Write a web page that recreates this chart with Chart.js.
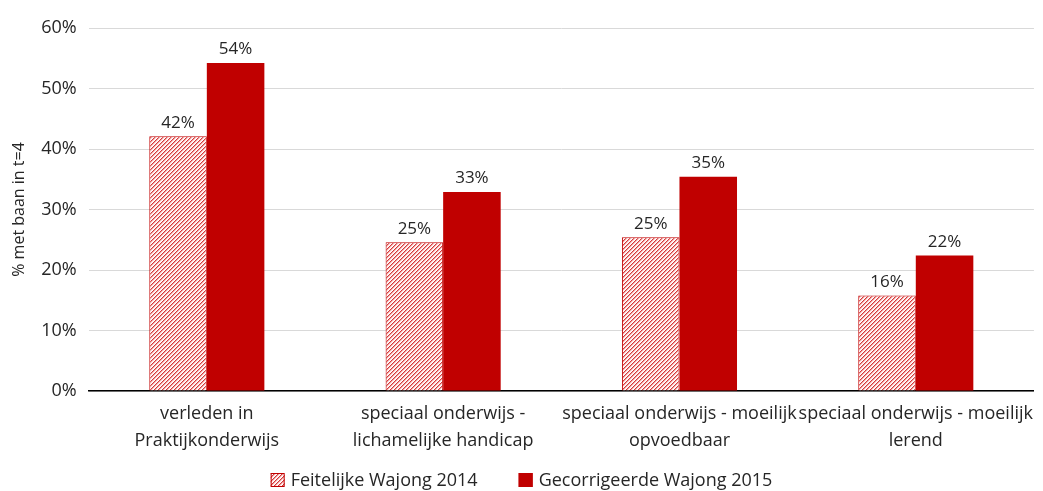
<!DOCTYPE html>
<html>
<head>
<meta charset="utf-8">
<script src="https://cdn.jsdelivr.net/npm/chart.js@4"></script>
<style>
  html, body { margin: 0; padding: 0; background: #fff; }
  #wrap { width: 1043px; height: 491px; }
</style>
</head>
<body>
<div id="wrap"><canvas id="c" width="1043" height="491"></canvas></div>
<script>
const categories = [
  ["verleden in", "Praktijkonderwijs"],
  ["speciaal onderwijs -", "lichamelijke handicap"],
  ["speciaal onderwijs - moeilijk", "opvoedbaar"],
  ["speciaal onderwijs - moeilijk", "lerend"]
];
const seriesNames = ["Feitelijke Wajong 2014", "Gecorrigeerde Wajong 2015"];
const feitelijk2014 = [42.1, 24.6, 25.4, 15.8];
const gecorrigeerd2015 = [54.2, 32.9, 35.4, 22.4];
const yTicks = [0, 10, 20, 30, 40, 50, 60];

const RED = "#c00000";
const TEXT = "#262626";
const FONT = "'Open Sans', 'Liberation Sans', sans-serif";

// fine upward-diagonal hatch fill for the 2014 series
function hatch() {
  const n = 4;
  const t = document.createElement("canvas");
  t.width = n; t.height = n;
  const g = t.getContext("2d");
  const shades = ["#d63a3a", "#ef9f9f", "#fde8e8", "#ffffff"];
  for (let i = 0; i < n; i++) {
    for (let k = 0; k < n; k++) {
      g.fillStyle = shades[k];
      g.fillRect((i + k) % n, n - 1 - i, 1, 1);
    }
  }
  return document.getElementById("c").getContext("2d").createPattern(t, "repeat");
}
const hatchFill = hatch();

// value labels above each bar
const valueLabels = {
  id: "valueLabels",
  afterDatasetsDraw(chart) {
    const ctx = chart.ctx;
    ctx.save();
    ctx.font = "17px " + FONT;
    ctx.fillStyle = TEXT;
    ctx.textAlign = "center";
    ctx.textBaseline = "bottom";
    chart.data.datasets.forEach((ds, di) => {
      chart.getDatasetMeta(di).data.forEach((bar, i) => {
        ctx.fillText(Math.round(ds.data[i]) + "%", bar.x, bar.y - 5);
      });
    });
    ctx.restore();
  }
};

// legend row along the bottom edge, centred on the canvas
const bottomLegend = {
  id: "bottomLegend",
  afterDraw(chart) {
    const ctx = chart.ctx;
    const box = 14, gap = 6, itemGap = 41, cy = 480;
    ctx.save();
    ctx.font = "18px " + FONT;
    ctx.textBaseline = "middle";
    ctx.textAlign = "left";
    const items = chart.data.datasets.map(ds => ({
      text: ds.label, fill: ds.backgroundColor, stroke: ds.borderColor,
      w: box + gap + ctx.measureText(ds.label).width
    }));
    const total = items.reduce((s, it) => s + it.w, 0) + itemGap * (items.length - 1);
    let x = (chart.width - total) / 2;
    items.forEach(it => {
      ctx.fillStyle = it.fill;
      ctx.fillRect(x, cy - box / 2, box, box);
      ctx.strokeStyle = it.stroke;
      ctx.lineWidth = 1;
      ctx.strokeRect(x + 0.5, cy - box / 2 + 0.5, box - 1, box - 1);
      ctx.fillStyle = TEXT;
      ctx.fillText(it.text, x + box + gap, cy + 1);
      x += it.w + itemGap;
    });
    ctx.restore();
  }
};

new Chart(document.getElementById("c"), {
  type: "bar",
  data: {
    labels: categories,
    datasets: [
      {
        label: seriesNames[0],
        data: feitelijk2014,
        backgroundColor: hatchFill,
        borderColor: RED,
        borderWidth: 1,
        borderSkipped: "bottom"
      },
      {
        label: seriesNames[1],
        data: gecorrigeerd2015,
        backgroundColor: RED,
        borderColor: RED,
        borderWidth: 0
      }
    ]
  },
  options: {
    responsive: false,
    animation: false,
    layout: { padding: { top: 28, right: 8, left: 10, bottom: 28 } },
    datasets: { bar: { categoryPercentage: 0.487, barPercentage: 1.0 } },
    scales: {
      x: {
        grid: { display: false, drawTicks: false },
        border: { display: true, color: "#000", width: 1.5 },
        ticks: {
          autoSkip: false,
          maxRotation: 0,
          minRotation: 0,
          padding: 9,
          color: TEXT,
          font: { family: FONT, size: 18, lineHeight: 1.5 }
        }
      },
      y: {
        min: 0,
        max: 60,
        afterBuildTicks(axis) { axis.ticks = yTicks.map(v => ({ value: v })); },
        grid: { color: "#d9d9d9", lineWidth: 1, drawTicks: false },
        border: { display: false },
        ticks: {
          padding: 12,
          color: TEXT,
          font: { family: FONT, size: 18 },
          callback: v => v + "%"
        },
        title: {
          display: true,
          text: "% met baan in t=4",
          color: TEXT,
          font: { family: FONT, size: 16 },
          padding: 0
        }
      }
    },
    plugins: {
      legend: { display: false },
      tooltip: { enabled: false }
    }
  },
  plugins: [valueLabels, bottomLegend]
});
</script>
</body>
</html>
